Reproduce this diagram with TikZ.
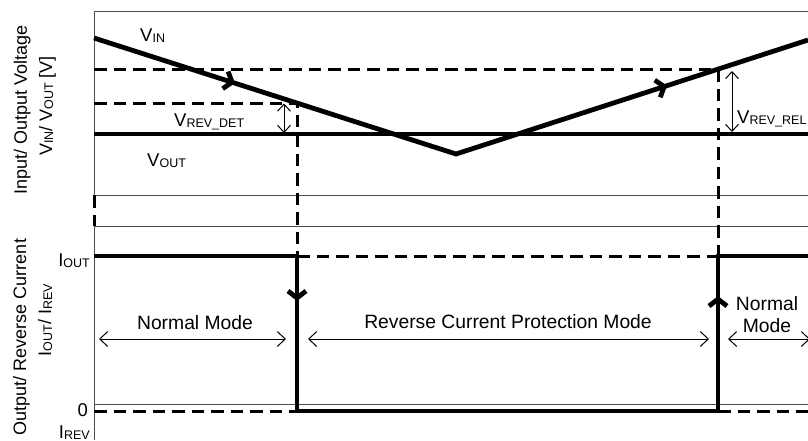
\documentclass[tikz,border=0pt]{standalone}
\usepackage{fontspec}
\setmainfont{Liberation Sans}
\usetikzlibrary{arrows.meta,decorations.markings}
\newcommand\sbs[1]{\raisebox{-1pt}{\fontsize{12.5}{13}\selectfont #1}}
\begin{document}
\begin{tikzpicture}[x=1pt,y=-1pt,
  txt/.style={font=\fontsize{18.5}{22}\selectfont, inner sep=0pt},
  modetxt/.style={font=\fontsize{19.3}{22}\selectfont, inner sep=0pt},
  axtxt/.style={font=\fontsize{18}{22}\selectfont, inner sep=0pt, rotate=90, anchor=base},
  frame/.style={draw=black!70, line width=1pt},
  sig/.style={draw=black, line width=4.8pt},
  dsh/.style={draw=black, line width=3pt, dash pattern=on 12.5pt off 7pt},
  dimarr/.style={draw=black, line width=1pt, {Straight Barb[length=7pt,width=13pt]}-{Straight Barb[length=7pt,width=13pt]}},
  modearr/.style={draw=black, line width=1pt, {Straight Barb[length=8pt,width=15pt]}-{Straight Barb[length=8pt,width=15pt]}}
]
\useasboundingbox (0,0) rectangle (808,440);
\clip (0,0) rectangle (808,440);
% frame coordinates
\coordinate (ax0) at (94,11);
\coordinate (ax1) at (94,195);
\coordinate (ax2) at (94,226);
\coordinate (ax3) at (94,440);
\coordinate (r0) at (808,11);
\coordinate (r1) at (808,195);
\coordinate (r2) at (808,226);
\coordinate (gl) at (94,404);
\coordinate (gr) at (808,404);
% signal coordinates
\coordinate (vin0) at (94,38);
\coordinate (vinmin) at (456,154);
\coordinate (vin1) at (808,40);
\coordinate (det) at (297,103);
\coordinate (detL) at (94,103);
\coordinate (rel) at (718,69);
\coordinate (relL) at (94,69);
\coordinate (vout0) at (94,134);
\coordinate (vout1) at (808,134);
\coordinate (i0) at (94,256);
\coordinate (iA) at (297,256);
\coordinate (iB) at (297,411);
\coordinate (iC) at (718,411);
\coordinate (iD) at (718,256);
\coordinate (i1) at (808,256);
\coordinate (z0) at (94,411);
\coordinate (z1) at (808,411);
% dimension arrows
\coordinate (dA) at (284,103.5);
\coordinate (dB) at (284,133);
\coordinate (eA) at (732,71);
\coordinate (eB) at (732,132);
% mode arrows
\coordinate (m1a) at (99,339);
\coordinate (m1b) at (286,339);
\coordinate (m2a) at (308,339);
\coordinate (m2b) at (709,339);
\coordinate (m3a) at (728,339);
\coordinate (m3b) at (810,339);

% thin frame lines
\draw[frame] (ax0) -- (r0);
\draw[frame] (ax1) -- (r1);
\draw[frame] (ax2) -- (r2);
\draw[frame] (gl) -- (gr);
\draw[frame] (ax0) -- (ax1);
\draw[frame] (ax2) -- (ax3);
\draw[dsh] (ax1) -- (ax2);

% dashed guide lines
\draw[dsh] (relL) -- (rel) -- (iD);
\draw[dsh] (detL) -- (det) -- (iA);
\draw[dsh] (iA) -- (iD);
\draw[dsh] (z0) -- (iB);
\draw[dsh] (iC) -- (z1);

% signals
\draw[sig] (vout0) -- (vout1);
\draw[sig, decoration={markings,
    mark=at position 148pt with {\arrow{Straight Barb[length=7pt,width=18pt]}},
    mark=at position 602pt with {\arrow{Straight Barb[length=7pt,width=18pt]}}},
  postaction={decorate}] (vin0) -- (vinmin) -- (vin1);
\draw[sig, line join=miter, decoration={markings,
    mark=at position 248pt with {\arrow{Straight Barb[length=7pt,width=18pt]}},
    mark=at position 894pt with {\arrow{Straight Barb[length=7pt,width=18pt]}}},
  postaction={decorate}] (i0) -- (iA) -- (iB) -- (iC) -- (iD) -- (i1);

% dimension arrows
\draw[dimarr] (dA) -- (dB);
\draw[dimarr] (eA) -- (eB);
\draw[modearr] (m1a) -- (m1b);
\draw[modearr] (m2a) -- (m2b);
\draw[modearr] (m3a) -- (m3b);

% labels
\node[txt, anchor=base west] (lvin) at (140,41) {V\sbs{IN}};
\node[txt, anchor=base west] (ldet) at (174,126) {V\sbs{REV\_DET}};
\node[txt, anchor=base west] (lvout) at (147,166.5) {V\sbs{OUT}};
\node[txt, anchor=base west] (lrel) at (737,123) {V\sbs{REV\_REL}};
\node[txt, anchor=base east] (liout) at (90,266) {I\sbs{OUT}};
\node[txt, anchor=base east] (lzero) at (88,416.5) {0};
\node[txt, anchor=base east] (lirev) at (90,438.5) {I\sbs{REV}};
\node[modetxt, anchor=base] (n1) at (195,329) {Normal Mode};
\node[modetxt, anchor=base] (n2) at (508,328.5) {Reverse Current Protection Mode};
\node[modetxt, anchor=base] (n3a) at (767,310) {Normal};
\node[modetxt, anchor=base] (n3b) at (767,332) {Mode};
\node[axtxt] (ya1) at (27,110) {Input/ Output Voltage};
\node[axtxt] (ya2) at (52,106) {V\sbs{IN}/ V\sbs{OUT} [V]};
\node[axtxt] (yb1) at (26,337) {Output/ Reverse Current};
\node[axtxt] (yb2) at (51,320) {I\sbs{OUT}/ I\sbs{REV}};
\end{tikzpicture}
\end{document}
